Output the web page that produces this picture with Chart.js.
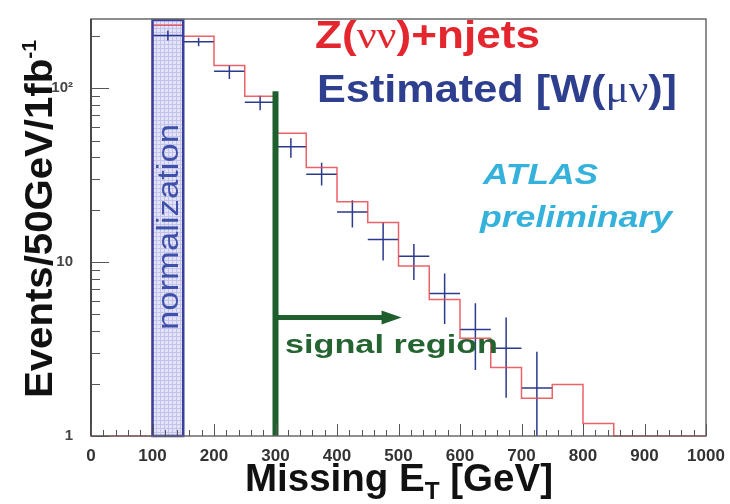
<!DOCTYPE html>
<html>
<head>
<meta charset="utf-8">
<script src="https://cdn.jsdelivr.net/npm/chart.js@4.4.1/dist/chart.umd.min.js"></script>
<style>
    body { margin: 0; background: #fff; }
    #wrap { width: 730px; height: 504px; }
</style>
</head>
<body>
<div id="wrap"><canvas id="chart1" width="730" height="504"></canvas></div>
<script>
// 50 GeV bins, Missing ET
const binEdges = [0, 50, 100, 150, 200, 250, 300, 350, 400, 450, 500, 550, 600, 650, 700, 750, 800, 850, 900, 950, 1000];
// Z(nunu)+njets, events per bin (0 = empty bin)
const zNjets = [0, 0, 230, 199, 135, 90, 55, 35, 22.2, 16.9, 9.5, 6.1, 3.65, 2.48, 1.65, 1.98, 1.18, 0, 0, 0];

// Estimated from W(mu nu): bin low edge, value, error band
const wBinLow = [100, 150, 200, 250, 300, 350, 400, 450, 500, 550, 600, 650, 700];
const wEst = [201, 185, 125, 83, 46, 32, 19.4, 13.5, 10.8, 6.6, 4.1, 3.2, 1.89];
const wErrLo = [188, 174, 113, 74.6, 39.8, 27.6, 15.8, 10.2, 7.9, 4.4, 2.4, 1.66, 1];
const wErrHi = [215, 195, 135, 90.6, 51.6, 37.3, 22.7, 16.9, 12.7, 8.6, 5.8, 4.8, 3.05];

const yTickVals = [1, 10, 100];
const yTickLabels = ['1', '10', '10²'];

const normRange = [100, 150];
const signalCut = 300;
const signalTop = 96;
const arrowTo = 505;
const arrowAt = 4.8;

const yMin = 1, yMax = 250;
const binW = 50;

const SANS = '"Liberation Sans", Arial, sans-serif';
const NARROW = '"Liberation Sans Narrow", "Liberation Sans", Arial, sans-serif';
const SERIF = '"Liberation Serif", "Times New Roman", serif';

// red histogram points (left edges, stepped)
const zPoints = binEdges.slice(0, -1).map((e, i) => ({ x: e, y: Math.max(zNjets[i], yMin) }));
zPoints.push({ x: binEdges[binEdges.length - 1], y: Math.max(zNjets[zNjets.length - 1], yMin) });

// blue crosses as broken line segments
const wPoints = [];
wBinLow.forEach((lo, i) => {
    const c = lo + binW / 2;
    wPoints.push({ x: lo, y: wEst[i] }, { x: lo + binW, y: wEst[i] }, { x: lo + binW, y: null });
    wPoints.push({ x: c, y: wErrLo[i] }, { x: c, y: wErrHi[i] }, { x: c, y: null });
});

function drawPieces(ctx, pieces, x, y, width, color, rot) {
    let total = 0;
    pieces.forEach(p => { ctx.font = p[1]; total += ctx.measureText(p[0]).width; });
    const k = width / total;
    ctx.save();
    ctx.translate(x, y);
    if (rot) ctx.rotate(rot);
    ctx.scale(k, 1);
    ctx.fillStyle = color;
    ctx.textAlign = 'left';
    ctx.textBaseline = 'alphabetic';
    let cx = 0;
    pieces.forEach(p => {
        ctx.font = p[1];
        ctx.fillText(p[0], cx, p[2] || 0);
        cx += ctx.measureText(p[0]).width;
    });
    ctx.restore();
}

function hatchPattern(ctx) {
    const c = document.createElement('canvas');
    c.width = 4; c.height = 4;
    const g = c.getContext('2d');
    g.fillStyle = '#e4e4f8';
    g.fillRect(0, 0, 4, 4);
    g.fillStyle = '#c2c2ec';
    g.fillRect(0, 0, 4, 1);
    g.fillRect(0, 0, 1, 4);
    return ctx.createPattern(c, 'repeat');
}

const decor = {
    id: 'decor',
    beforeDatasetsDraw(chart) {
        const { ctx, chartArea: a, scales: { x } } = chart;
        const x0 = x.getPixelForValue(normRange[0]);
        const x1 = x.getPixelForValue(normRange[1]);
        ctx.save();
        ctx.fillStyle = hatchPattern(ctx);
        ctx.fillRect(x0, a.top, x1 - x0, a.bottom - a.top);
        ctx.restore();
        drawPieces(ctx, [['normalization', '29px ' + SANS]], x1 - 5, 330, 206, '#3f50a8', -Math.PI / 2);
    },
    afterDatasetsDraw(chart) {
        const { ctx, chartArea: a, scales: { x, y } } = chart;
        const x0 = x.getPixelForValue(normRange[0]);
        const x1 = x.getPixelForValue(normRange[1]);
        ctx.save();
        ctx.strokeStyle = '#3a3f9c';
        ctx.lineWidth = 2.5;
        ctx.strokeRect(x0, a.top + 1, x1 - x0, a.bottom - a.top - 1);

        // signal region line + arrow
        const xc = x.getPixelForValue(signalCut);
        const yt = y.getPixelForValue(signalTop);
        const ya = y.getPixelForValue(arrowAt);
        const xe = x.getPixelForValue(arrowTo);
        ctx.fillStyle = '#1f5e2d';
        ctx.fillRect(xc - 3, yt, 6, a.bottom - yt);
        ctx.fillRect(xc, ya - 2.5, xe - 18 - xc, 5);
        ctx.beginPath();
        ctx.moveTo(xe, ya);
        ctx.lineTo(xe - 20, ya - 7);
        ctx.lineTo(xe - 20, ya + 7);
        ctx.closePath();
        ctx.fill();

        // frame
        ctx.strokeStyle = '#6a6a6a';
        ctx.lineWidth = 1.5;
        ctx.strokeRect(a.left, a.top, a.right - a.left, a.bottom - a.top);
        ctx.strokeStyle = '#333';
        ctx.beginPath();
        ctx.moveTo(a.left, a.top); ctx.lineTo(a.left, a.bottom);
        ctx.stroke();

        // inward ticks
        ctx.strokeStyle = '#555';
        ctx.lineWidth = 1;
        ctx.beginPath();
        for (let v = x.min; v <= x.max; v += 20) {
            const px = Math.round(x.getPixelForValue(v)) + 0.5;
            const len = v % 100 === 0 ? 12 : 6;
            ctx.moveTo(px, a.bottom); ctx.lineTo(px, a.bottom - len);
        }
        for (let d = 1; d <= yMax; d *= 10) {
            for (let m = 1; m <= 9; m++) {
                const v = d * m;
                if (v > yMax) break;
                const py = Math.round(y.getPixelForValue(v)) + 0.5;
                ctx.moveTo(a.left, py); ctx.lineTo(a.left + (m === 1 ? 18 : 9), py);
            }
        }
        ctx.stroke();
        ctx.restore();
    },
    afterDraw(chart) {
        const { ctx } = chart;
        drawPieces(ctx, [['Z(', 'bold 38px ' + SANS], ['νν', '38px ' + SERIF], [')+njets', 'bold 38px ' + SANS]], 315, 48, 225, '#e4262e');
        drawPieces(ctx, [['Estimated [W(', 'bold 38px ' + SANS], ['μν', '38px ' + SERIF], [')]', 'bold 38px ' + SANS]], 317, 102, 360, '#2e3f8f');
        drawPieces(ctx, [['ATLAS', 'italic bold 30px ' + SANS]], 483, 184, 115, '#35b2db');
        drawPieces(ctx, [['preliminary', 'italic bold 30px ' + SANS]], 480, 227, 192, '#35b2db');
        drawPieces(ctx, [['signal region', 'bold 25px ' + SANS]], 285, 353, 213, '#246430');
        drawPieces(ctx, [['Events/50GeV/1fb', 'bold 38px ' + SANS], ['-1', 'bold 20px ' + SANS, -16]], 52, 398, 358, '#111', -Math.PI / 2);
        drawPieces(ctx, [['Missing E', 'bold 38px ' + SANS], ['T', 'bold 24px ' + SANS, 8], [' [GeV]', 'bold 38px ' + SANS]], 245, 491, 308, '#111');
    }
};

new Chart(document.getElementById('chart1'), {
    type: 'line',
    data: {
        datasets: [{
            label: 'Z(vv)+njets',
            data: zPoints,
            stepped: true,
            borderColor: 'rgba(232, 70, 78, 0.85)',
            borderWidth: 1.5,
            pointRadius: 0,
            fill: false,
            clip: 4
        }, {
            label: 'Estimated [W(mu v)]',
            data: wPoints,
            borderColor: '#2c3a8e',
            borderWidth: 1.5,
            pointRadius: 0,
            spanGaps: false,
            fill: false,
            clip: 4
        }]
    },
    plugins: [decor],
    options: {
        responsive: false,
        animation: false,
        layout: { padding: { top: 10, right: 24, left: 0, bottom: 0 } },
        plugins: {
            legend: { display: false },
            tooltip: { enabled: false }
        },
        scales: {
            x: {
                type: 'linear',
                min: 0,
                max: 1000,
                grid: { display: false },
                border: { display: false },
                ticks: {
                    stepSize: 100,
                    padding: 2,
                    color: '#333',
                    font: { family: NARROW, size: 17, weight: 'bold' },
                    callback: v => String(v)
                },
                afterFit: s => { s.height = 68; }
            },
            y: {
                type: 'logarithmic',
                min: yMin,
                max: yMax,
                grid: { display: false },
                border: { display: false },
                afterBuildTicks: s => { s.ticks = yTickVals.map(v => ({ value: v })); },
                ticks: {
                    padding: 10,
                    color: '#444',
                    font: { family: SANS, size: 15, weight: 'bold' },
                    callback: v => yTickLabels[yTickVals.indexOf(v)]
                },
                afterFit: s => { s.width = 91; }
            }
        }
    }
});
</script>
</body>
</html>
